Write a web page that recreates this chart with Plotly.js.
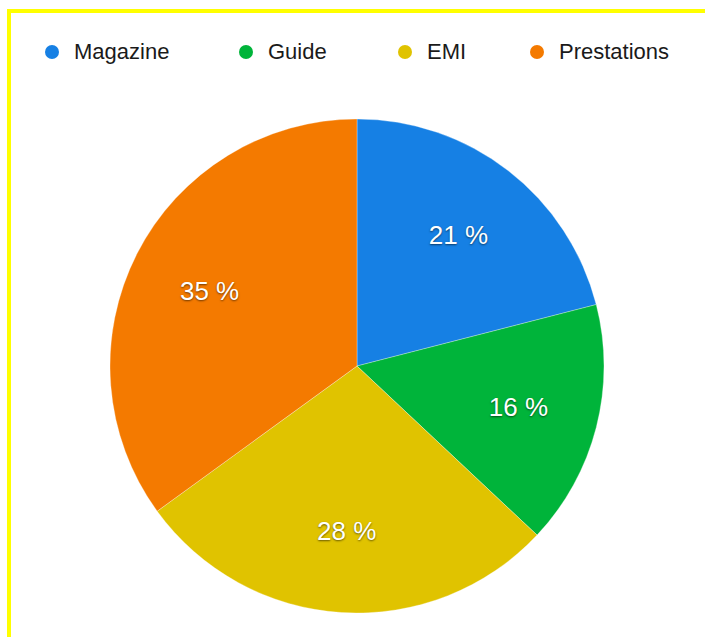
<!DOCTYPE html>
<html>
<head>
<meta charset="utf-8">
<script src="https://cdn.plot.ly/plotly-3.0.1.min.js"></script>
<style>
  html, body { margin: 0; padding: 0; background: #ffffff; }
  #chart { width: 705px; height: 637px; }
</style>
</head>
<body>
<div id="chart"></div>
<script>
// Data
var categories = ['Magazine', 'Guide', 'EMI', 'Prestations'];
var shares = [21, 16, 28, 35];
var colors = ['#1680e4', '#00b43a', '#e0c300', '#f47a00'];

var W = 705, H = 637;
function px(x) { return x / W; }
function py(y) { return 1 - y / H; }

// Pie geometry (pixels)
var cx = 357, cy = 366, R = 247;
var dom = { x: [px(cx - R), px(cx + R)], y: [py(cy + R), py(cy - R)] };

var pie = {
  type: 'pie',
  labels: categories,
  values: shares,
  sort: false,
  direction: 'clockwise',
  rotation: 0,
  marker: { colors: colors, line: { color: 'rgba(255,255,255,0.6)', width: 0.5 } },
  textinfo: 'none',
  hoverinfo: 'label+percent',
  showlegend: false,
  domain: dom
};

// Transparent ring on top, only to carry the slice labels at ~2/3 of the radius
var labelPie = {
  type: 'pie',
  labels: categories,
  values: shares,
  sort: false,
  direction: 'clockwise',
  rotation: 0,
  hole: 0.34,
  marker: { colors: categories.map(function () { return 'rgba(0,0,0,0)'; }), line: { width: 0 } },
  texttemplate: '%{value} %',
  textposition: 'inside',
  insidetextorientation: 'horizontal',
  insidetextfont: { family: 'Liberation Sans, Arial, sans-serif', size: 26, color: '#ffffff',
                    shadow: '0px 1px 2px rgba(0,0,0,0.55)' },
  hoverinfo: 'skip',
  showlegend: false,
  domain: dom
};

// Legend (circles + labels) built from the categories and colours
var legendMarkerX = [52, 246, 405, 537];
var legendY = 52;
var shapes = [];
var annotations = [];
categories.forEach(function (c, i) {
  shapes.push({
    type: 'circle', xref: 'paper', yref: 'paper',
    xsizemode: 'pixel', ysizemode: 'pixel',
    xanchor: px(legendMarkerX[i]), yanchor: py(legendY),
    x0: -7, x1: 7, y0: -7, y1: 7,
    fillcolor: colors[i], line: { width: 0 }
  });
  annotations.push({
    xref: 'paper', yref: 'paper',
    x: px(legendMarkerX[i] + 20), y: py(legendY),
    xanchor: 'left', yanchor: 'middle',
    text: c, showarrow: false,
    font: { family: 'Liberation Sans, Arial, sans-serif', size: 22, color: '#1a1a1a' }
  });
});

// Yellow frame (top and left edges)
shapes.push({ type: 'line', xref: 'paper', yref: 'paper',
  x0: px(7), x1: px(W + 5), y0: py(11), y1: py(11),
  line: { color: '#ffff00', width: 4 } });
shapes.push({ type: 'line', xref: 'paper', yref: 'paper',
  x0: px(9), x1: px(9), y0: py(9), y1: py(H + 5),
  line: { color: '#ffff00', width: 4 } });

var layout = {
  width: W, height: H,
  margin: { l: 0, r: 0, t: 0, b: 0 },
  paper_bgcolor: '#ffffff',
  showlegend: false,
  shapes: shapes,
  annotations: annotations
};

Plotly.newPlot('chart', [pie, labelPie], layout, { displayModeBar: false, staticPlot: true });
</script>
</body>
</html>
